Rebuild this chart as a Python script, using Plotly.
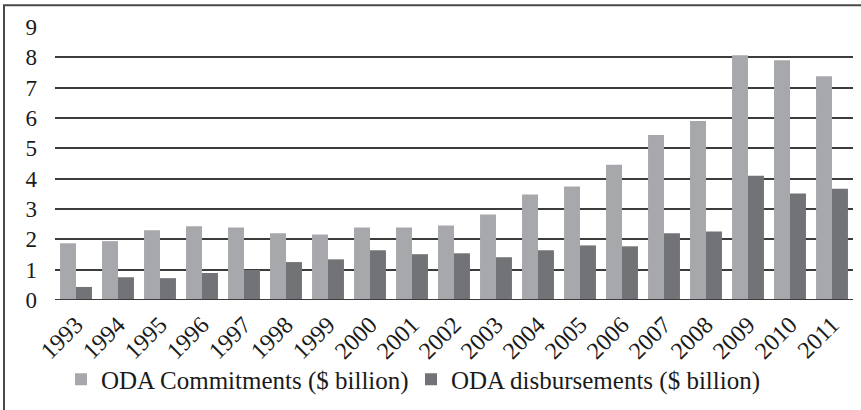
import plotly.graph_objects as go

years = [str(y) for y in range(1993, 2012)]
commitments = [1.87, 1.94, 2.30, 2.43, 2.39, 2.20, 2.16, 2.39, 2.39, 2.46,
               2.82, 3.48, 3.74, 4.46, 5.44, 5.90, 8.07, 7.90, 7.38]
disbursements = [0.43, 0.75, 0.72, 0.89, 0.99, 1.25, 1.34, 1.64, 1.51, 1.54,
                 1.41, 1.64, 1.80, 1.77, 2.20, 2.26, 4.10, 3.51, 3.67]
y_ticks = list(range(0, 10))

serif = "Liberation Serif, Times New Roman, serif"

fig = go.Figure()
fig.add_trace(go.Bar(x=years, y=commitments, name="ODA Commitments ($ billion)",
                     marker=dict(color="#a7a8ab", line=dict(width=0))))
fig.add_trace(go.Bar(x=years, y=disbursements, name="ODA disbursements ($ billion)",
                     marker=dict(color="#727376", line=dict(width=0))))

W, H = 861, 410
ml, mr, mt, mb = 55, 8, 27, 108
pw = W - ml - mr
ph = H - mt - mb

fig.update_layout(
    width=W, height=H,
    margin=dict(l=ml, r=mr, t=mt, b=mb),
    paper_bgcolor="white", plot_bgcolor="white",
    barmode="group", bargap=0.24, bargroupgap=0,
    font=dict(family=serif, color="#1a1a1a"),
    showlegend=True,
    legend=dict(orientation="h", x=(61 - ml) / pw, xanchor="left",
                y=(302 - 382) / ph, yanchor="middle",
                font=dict(family=serif, size=25, color="#1a1a1a"),
                itemwidth=30, entrywidth=305, traceorder="normal",
                bgcolor="rgba(0,0,0,0)"),
    xaxis=dict(type="category", tickangle=-45, showgrid=False, zeroline=False,
               showline=False, ticks="", ticklabelstandoff=5,
               tickfont=dict(family=serif, size=24, color="#1a1a1a")),
    yaxis=dict(range=[0, 9], tickvals=y_ticks, showgrid=True,
               gridcolor="#3c3c3c", gridwidth=1.5, zeroline=False,
               showline=False, ticks="", ticklabelstandoff=17,
               tickfont=dict(family=serif, size=23, color="#1a1a1a")),
)

# baseline at zero
fig.add_shape(type="line", xref="paper", yref="y", x0=0, x1=1, y0=0, y1=0,
              line=dict(color="#3c3c3c", width=2), layer="above")

# outer frame around the chart
fig.add_shape(type="rect", xref="paper", yref="paper",
              x0=(4 - ml) / pw, x1=(W + 20 - ml) / pw,
              y0=-(H + 20 - 302) / ph, y1=1 + (mt - 5) / ph,
              line=dict(color="#4a4a4a", width=2), fillcolor="rgba(0,0,0,0)")

fig.write_html("out.html")
